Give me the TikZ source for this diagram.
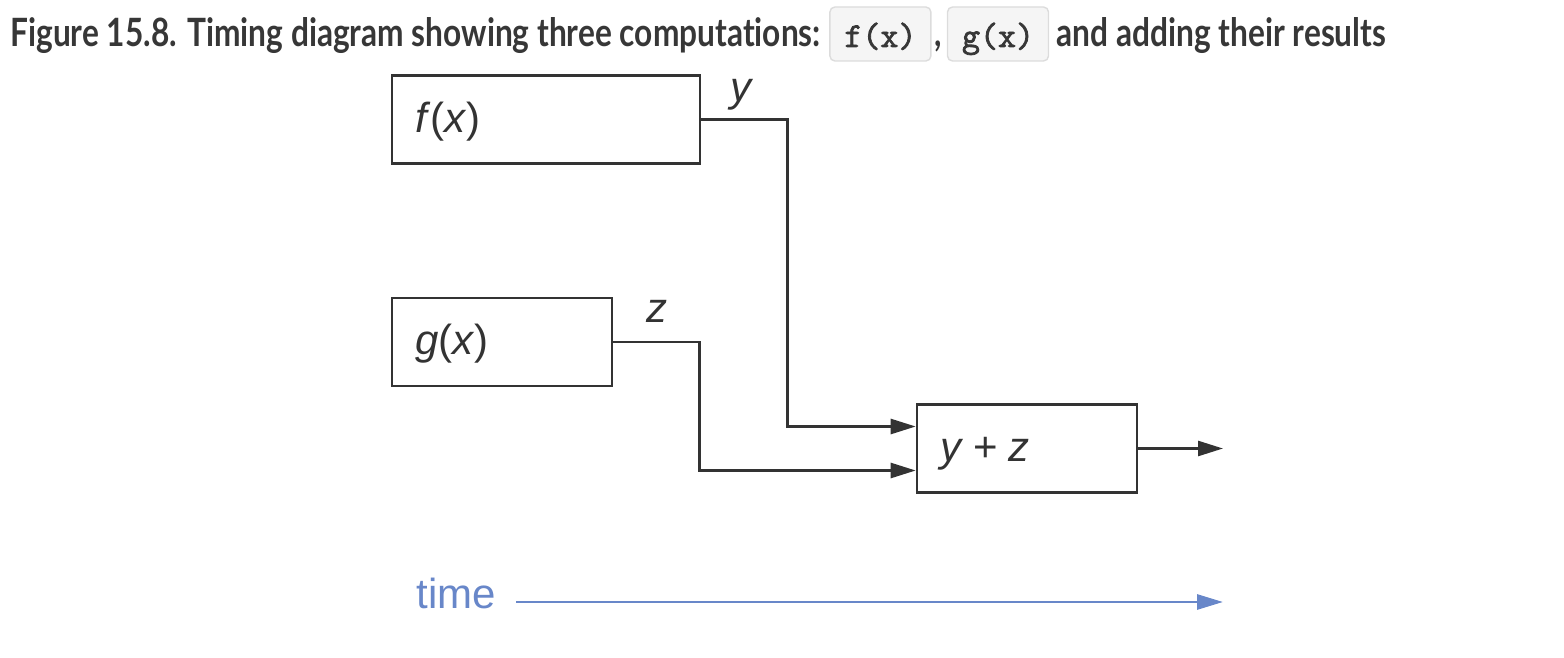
\documentclass[tikz,border=0pt]{standalone}
\usepackage{fontspec}
\setmainfont{Liberation Sans}
\newfontfamily\titlefont{Lato}[FakeStretch=0.812, Ligatures=NoCommon]
\newfontfamily\codefont{Latin Modern Mono}[FakeBold=2.2]
\usetikzlibrary{arrows.meta, positioning}
\definecolor{ink}{RGB}{51,51,51}
\definecolor{titleink}{RGB}{55,55,55}
\definecolor{timeblue}{RGB}{104,135,201}
\definecolor{codebg}{RGB}{245,245,245}
\definecolor{codeline}{RGB}{220,220,220}
\tikzstyle{caption} = [
    inner sep=0pt,
    text=titleink,
    font=\titlefont\bfseries\fontsize{19.5}{23}\selectfont
]
\tikzstyle{code} = [
    rectangle,
    rounded corners=2.5pt,
    draw=codeline,
    fill=codebg,
    line width=0.7pt,
    minimum width=50.5pt,
    inner xsep=0pt,
    inner ysep=0pt,
    text height=20pt,
    text depth=7pt,
    text=titleink,
    font=\codefont\fontsize{17.5}{20}\selectfont
]
\tikzstyle{func} = [
    rectangle,
    draw=ink,
    line width=1.3pt,
    minimum height=44pt,
    inner xsep=11.5pt,
    text height=17pt,
    text depth=4.4pt,
    align=left,
    text=ink,
    font=\fontsize{21}{25}\selectfont
]
\tikzstyle{signal} = [inner sep=0pt, text=ink, font=\fontsize{21}{25}\selectfont\itshape]
\tikzstyle{wire} = [draw=ink, line width=1.3pt, -{Triangle[length=12.5pt,width=7.5pt]}]
\tikzstyle{timeline} = [draw=timeblue, line width=1.4pt, -{Triangle[length=13pt,width=7.5pt]}]

\begin{document}
\begin{tikzpicture}[x=0.5pt, y=-0.5pt]
\useasboundingbox (0,0) rectangle (1564,658);

% Caption
\node (title) [caption, anchor=base west] at (10,47) {Figure 15.8. Timing diagram showing three computations:};
\node (fcode) [code, right=4pt of title.base east, anchor=base west] {f(x)};
\node (comma) [caption, right=1pt of fcode.base east, anchor=base west] {,};
\node (gcode) [code, right=2.5pt of comma.base east, anchor=base west] {g(x)};
\node (rest) [caption, right=3.5pt of gcode.base east, anchor=base west] {and adding their results};

% Nodes
\node (f) [func, text width=131pt] at (546,119.5) {\textit{f}(\textit{x})};
\node (g) [func, text width=87pt, below=66pt of f.south west, anchor=north west] {\textit{g}(\textit{x})};
\node (sum) [func, text width=87pt] at (1027,448.5) {\textit{y}\hspace{0.25em}+\hspace{0.25em}\textit{z}};
\node (y) [signal, anchor=base] at (741,102) {y};
\node (z) [signal, anchor=base] at (657,322) {z};
\node (time) [signal, font=\fontsize{21}{25}\selectfont, text=timeblue, anchor=base west] at (416,608) {time};
\coordinate (out) at (1223,448.5);
\coordinate (tend) at (1223,602);

% Arrows
\draw [wire] (f.east) -- +(86,0) |- ([yshift=11pt]sum.west);
\draw [wire] (g.east) -- +(86,0) |- ([yshift=-11pt]sum.west);
\draw [wire] (sum.east) -- (out);
\draw [timeline] ([xshift=10pt]time.east |- tend) -- (tend);

\end{tikzpicture}
\end{document}
